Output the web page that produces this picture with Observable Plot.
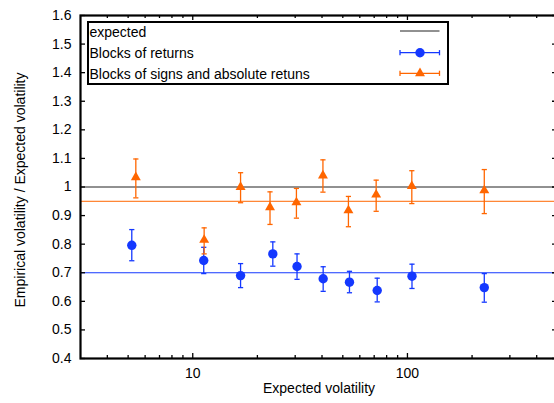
<!DOCTYPE html>
<html><head><meta charset="utf-8">
<script src="https://cdn.jsdelivr.net/npm/d3@7"></script>
<script src="https://cdn.jsdelivr.net/npm/@observablehq/plot@0.6"></script>
<style>
html,body{margin:0;padding:0;background:#fff;overflow:hidden;width:554px;height:403px;position:relative}
#chart{position:absolute;left:0;top:0}
.legend{position:absolute;left:87px;top:21px;width:358px;height:60px;border:2px solid #000;background:#fff}
.lt{position:absolute;font:14px "Liberation Sans",Arial,sans-serif;line-height:16px;color:#000;white-space:nowrap}
#legsvg{position:absolute;left:0;top:0;overflow:visible}
</style></head><body>
<div id="chart"></div>
<div class="legend"></div>
<div class="lt" id="l0" style="left:89.5px;top:23.5px"></div>
<div class="lt" id="l1" style="left:89.5px;top:45px"></div>
<div class="lt" id="l2" style="left:89.5px;top:66px"></div>
<svg id="legsvg" width="554" height="100"></svg>
<script>
// ---- data ----
const seriesNames = ["expected", "Blocks of returns", "Blocks of signs and absolute retuns"];
const expectedLevel = 1.0;
const returnsLevel = 0.70;
const signsLevel = 0.95;

const returnsX    = [5.2, 11.25, 16.7, 23.6, 30.6, 40.5, 53.7, 72.3, 105, 228];
const returnsY    = [0.796, 0.743, 0.690, 0.766, 0.722, 0.679, 0.667, 0.638, 0.688, 0.648];
const returnsLow  = [0.742, 0.697, 0.648, 0.723, 0.677, 0.635, 0.630, 0.598, 0.645, 0.597];
const returnsHigh = [0.851, 0.789, 0.732, 0.808, 0.766, 0.721, 0.705, 0.681, 0.730, 0.697];

const signsX    = [5.43, 11.3, 16.7, 22.9, 30.4, 40.4, 53.1, 71.5, 104.8, 228];
const signsY    = [1.034, 0.815, 1.000, 0.929, 0.946, 1.040, 0.918, 0.973, 1.003, 0.988];
const signsLow  = [0.962, 0.766, 0.945, 0.869, 0.891, 0.982, 0.861, 0.915, 0.942, 0.907];
const signsHigh = [1.098, 0.857, 1.050, 0.983, 0.995, 1.095, 0.967, 1.024, 1.057, 1.061];

const yTicks = [0.4, 0.5, 0.6, 0.7, 0.8, 0.9, 1.0, 1.1, 1.2, 1.3, 1.4, 1.5, 1.6];
const yTickLabels = ["0.4","0.5","0.6","0.7","0.8","0.9","1","1.1","1.2","1.3","1.4","1.5","1.6"];
const xMajorTicks = [10, 100];
const xTickLabels = ["10", "100"];
const xMinorTicks = [4, 5, 6, 7, 8, 9, 20, 30, 40, 50, 60, 70, 80, 90, 200, 300, 400];

const blue = "#1438ff";
const orange = "#ff6600";

// ---- build ----
const returns = returnsX.map((x, i) => ({x, y: returnsY[i], lo: returnsLow[i], hi: returnsHigh[i]}));
const signs = signsX.map((x, i) => ({x, y: signsY[i], lo: signsLow[i], hi: signsHigh[i]}));

const W = 558, H = 403, mL = 80, mR = 1, mT = 15, mB = 45;
const pw = W - mL - mR, ph = H - mT - mB;

const cap = {draw(ctx) { ctx.moveTo(-2.6, 0); ctx.lineTo(2.6, 0); }};

function errMarks(data, color, symbol, r) {
  return [
    Plot.ruleX(data, {x: "x", y1: "lo", y2: "hi", stroke: color, strokeWidth: 1.3}),
    Plot.dot(data, {x: "x", y: "lo", symbol: cap, r: 3, stroke: color, strokeWidth: 1.3, fill: "none"}),
    Plot.dot(data, {x: "x", y: "hi", symbol: cap, r: 3, stroke: color, strokeWidth: 1.3, fill: "none"}),
    Plot.dot(data, {x: "x", y: "y", symbol, r, fill: color, stroke: "none"})
  ];
}

const chart = Plot.plot({
  width: W, height: H,
  marginLeft: mL, marginRight: mR, marginTop: mT, marginBottom: mB,
  style: {fontFamily: '"Liberation Sans", Arial, sans-serif', fontSize: "14px", color: "#000", background: "#fff", overflow: "visible"},
  x: {type: "log", domain: [3, 500]},
  y: {domain: [0.4, 1.6]},
  marks: [
    Plot.ruleY([expectedLevel], {stroke: "#222", strokeWidth: 1}),
    Plot.ruleY([signsLevel], {stroke: orange, strokeWidth: 1}),
    Plot.ruleY([returnsLevel], {stroke: blue, strokeWidth: 1}),
    ...errMarks(returns, blue, "circle", 4.7),
    ...errMarks(signs, orange, "triangle", 3.7),
    // inward ticks
    Plot.tickX(xMajorTicks, {x: d => d, insetTop: ph - 5, stroke: "#000", strokeWidth: 1.3}),
    Plot.tickX(xMinorTicks, {x: d => d, insetTop: ph - 3, stroke: "#000", strokeWidth: 1.3}),
    Plot.tickX(xMajorTicks, {x: d => d, insetBottom: ph - 5, stroke: "#000", strokeWidth: 1.3}),
    Plot.tickX(xMinorTicks, {x: d => d, insetBottom: ph - 3, stroke: "#000", strokeWidth: 1.3}),
    Plot.tickY(yTicks, {y: d => d, insetRight: pw - 5, stroke: "#000", strokeWidth: 1.3}),
    Plot.tickY(yTicks, {y: d => d, insetLeft: pw - 5, stroke: "#000", strokeWidth: 1.3}),
    Plot.frame({stroke: "#000", strokeWidth: 2.2}),
    Plot.axisY({ticks: yTicks, tickSize: 0, tickPadding: 9, tickFormat: (d, i) => yTickLabels[yTicks.indexOf(d)], label: null, fontSize: 14}),
    Plot.axisX({ticks: xMajorTicks, tickSize: 0, tickPadding: 10, tickFormat: d => xTickLabels[xMajorTicks.indexOf(d)], label: null, fontSize: 14}),
    Plot.text(["Expected volatility"], {frameAnchor: "bottom", dy: 34, fontSize: 14, fill: "#000"}),
    Plot.text(["Empirical volatility / Expected volatility"], {frameAnchor: "left", textAnchor: "middle", lineAnchor: "middle", dx: -59.5, dy: 3, rotate: -90, fontSize: 14, fill: "#000"})
  ]
});
chart.style.maxWidth = "none";
chart.style.height = H + "px";
document.getElementById("chart").appendChild(chart);

// ---- legend ----
document.getElementById("l0").textContent = seriesNames[0];
document.getElementById("l1").textContent = seriesNames[1];
document.getElementById("l2").textContent = seriesNames[2];
const lg = d3.select("#legsvg");
const x0 = 400, x1 = 439.5, xm = 420;
lg.append("line").attr("x1", x0).attr("x2", x1).attr("y1", 31).attr("y2", 31).attr("stroke", "#222").attr("stroke-width", 1);
[[52.7, blue, "circle", 4.7], [73.3, orange, "triangle", 3.7]].forEach(([y, c, s, r]) => {
  lg.append("line").attr("x1", x0).attr("x2", x1).attr("y1", y).attr("y2", y).attr("stroke", c).attr("stroke-width", 1.3);
  [x0, x1].forEach(xx => lg.append("line").attr("x1", xx).attr("x2", xx).attr("y1", y - 2.6).attr("y2", y + 2.6).attr("stroke", c).attr("stroke-width", 1.3));
  const sym = s === "circle" ? d3.symbolCircle : d3.symbolTriangle;
  lg.append("path").attr("d", d3.symbol(sym, Math.PI * r * r)()).attr("transform", `translate(${xm},${y})`).attr("fill", c);
});
</script>
</body></html>
